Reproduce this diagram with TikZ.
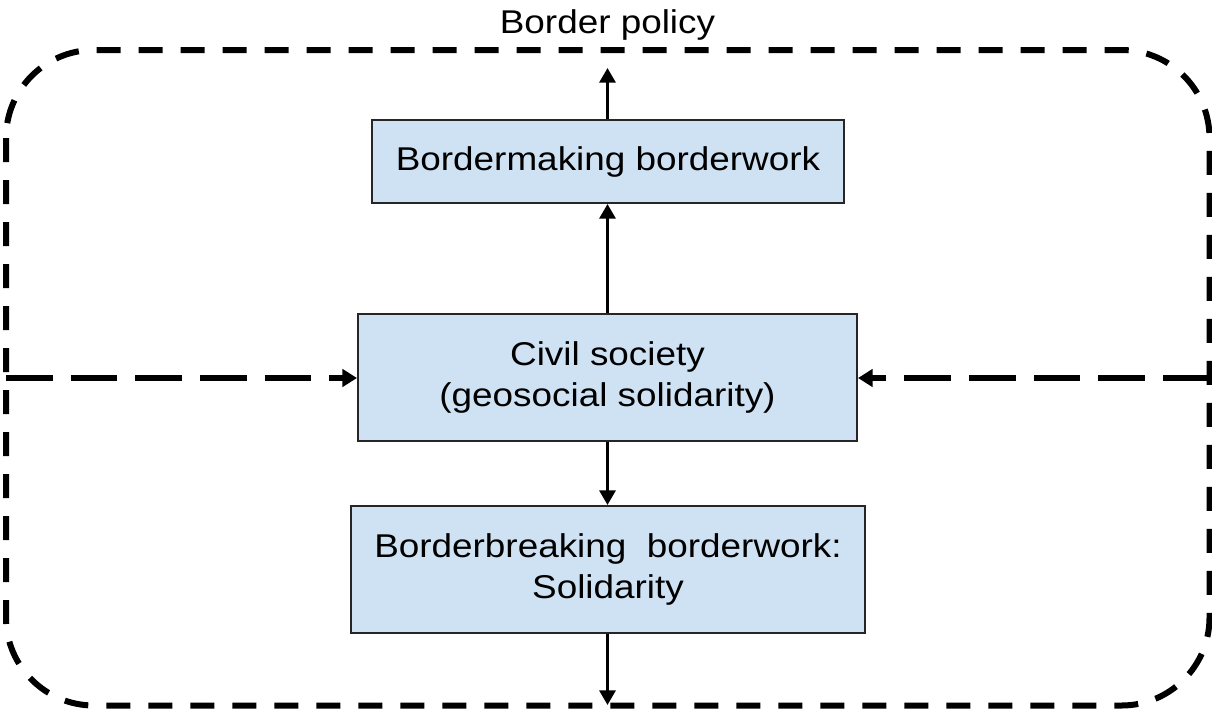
\documentclass[tikz,border=0pt]{standalone}
\usepackage{fontspec}
\setmainfont{Liberation Sans}[FakeStretch=1.12]
\usetikzlibrary{arrows.meta}
\definecolor{boxblue}{HTML}{CFE2F3}
\tikzset{
  box/.style = {draw=black!85, line width=1.5pt, fill=boxblue,
                align=center, inner sep=0pt,
                font=\fontsize{24.7pt}{30.8pt}\selectfont},
  link/.style = {line width=2.4pt, -{Triangle[length=11pt, width=12pt]}},
  bound/.style = {line width=4.5pt, dash pattern=on 18pt off 13.5pt},
  inflow/.style = {line width=4.5pt, dash pattern=on 35pt off 13.5pt,
                   -{Triangle[length=11pt, width=13pt]}}
}

\begin{document}
\begin{tikzpicture}[x=0.75pt, y=-0.75pt]
	\def \mid{607.5}
	\def \midy{378}
	\useasboundingbox (0,0) rectangle (1212,711);
	
	% Boundary of border policy
	\draw[bound, rounded corners=66pt] (6,50) rectangle (1209.5,705.5);
	\node[anchor=base, font=\fontsize{24.7pt}{28pt}\selectfont] (policy) at (\mid,33.5) {Border policy};
	
	% Boxes
	\node[box, minimum width=354pt, minimum height=62.25pt] (making) at (608,161.5) {Bordermaking borderwork};
	\node[box, minimum width=374.25pt, minimum height=95.25pt] (civil) at (607.5,377.5) {Civil society\\(geosocial solidarity)};
	\node[box, minimum width=385.5pt, minimum height=95.25pt] (breaking) at (608,569.5) {Borderbreaking~ borderwork:\\Solidarity};
	
	% Free ends
	\coordinate (top) at (\mid,68);
	\coordinate (bottom) at (\mid,705);
	\coordinate (west) at (6,\midy);
	\coordinate (east) at (1209.5,\midy);
	
	% Arrows
	\draw[link] (making.north -| top) -- (top);
	\draw[link] (civil.north -| top) -- (making.south -| top);
	\draw[link] (civil.south -| top) -- (breaking.north -| top);
	\draw[link] (breaking.south -| top) -- (bottom);
	
	% Dashed inflows
	\draw[inflow] (west) -- (west -| civil.west);
	\draw[inflow] (east) -- (east -| civil.east);
	
\end{tikzpicture}
\end{document}
